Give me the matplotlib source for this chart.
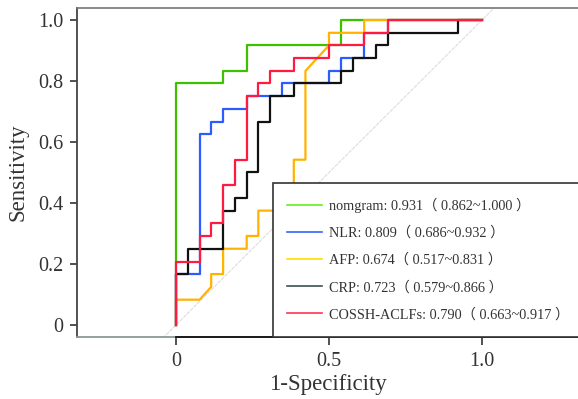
import matplotlib
matplotlib.use('Agg')
import matplotlib.pyplot as plt
from matplotlib.lines import Line2D
from matplotlib.patches import Rectangle

plt.rcParams['font.family'] = ['Liberation Serif', 'Noto Sans CJK SC']

# ROC points (1-specificity, sensitivity)
nom_fpr = [0, 0, 0.154, 0.154, 0.231, 0.231, 0.538, 0.538, 1]
nom_tpr = [0, 0.792, 0.792, 0.833, 0.833, 0.917, 0.917, 1, 1]

nlr_fpr = [0, 0, 0.077, 0.077, 0.115, 0.115, 0.154, 0.154, 0.231, 0.231, 0.346,
           0.346, 0.5, 0.5, 0.538, 0.538, 0.615, 0.615, 0.692, 0.692, 1]
nlr_tpr = [0, 0.167, 0.167, 0.625, 0.625, 0.667, 0.667, 0.708, 0.708, 0.75, 0.75,
           0.792, 0.792, 0.833, 0.833, 0.875, 0.875, 0.958, 0.958, 1, 1]

afp_fpr = [0, 0, 0.077, 0.115, 0.115, 0.154, 0.154, 0.231, 0.231, 0.269, 0.269,
           0.385, 0.385, 0.423, 0.423, 0.5, 0.5, 0.615, 0.615, 1]
afp_tpr = [0, 0.083, 0.083, 0.125, 0.167, 0.167, 0.25, 0.25, 0.292, 0.292, 0.375,
           0.375, 0.542, 0.542, 0.833, 0.917, 0.958, 0.958, 1, 1]

crp_fpr = [0, 0, 0.038, 0.038, 0.154, 0.154, 0.192, 0.192, 0.231, 0.231, 0.269,
           0.269, 0.308, 0.308, 0.385, 0.385, 0.538, 0.538, 0.577, 0.577, 0.654,
           0.654, 0.692, 0.692, 0.923, 0.923, 1]
crp_tpr = [0, 0.167, 0.167, 0.25, 0.25, 0.375, 0.375, 0.417, 0.417, 0.5, 0.5,
           0.667, 0.667, 0.75, 0.75, 0.792, 0.792, 0.833, 0.833, 0.875, 0.875,
           0.917, 0.917, 0.958, 0.958, 1, 1]

cos_fpr = [0, 0, 0.077, 0.077, 0.115, 0.115, 0.154, 0.154, 0.192, 0.192, 0.231,
           0.231, 0.269, 0.269, 0.308, 0.308, 0.385, 0.385, 0.5, 0.5, 0.615,
           0.615, 0.692, 0.692, 1]
cos_tpr = [0, 0.208, 0.208, 0.292, 0.292, 0.333, 0.333, 0.458, 0.458, 0.542, 0.542,
           0.75, 0.75, 0.792, 0.792, 0.833, 0.833, 0.875, 0.875, 0.917, 0.917,
           0.958, 0.958, 1, 1]

labels = ['nomgram: 0.931（ 0.862~1.000 ）',
          'NLR: 0.809（ 0.686~0.932 ）',
          'AFP: 0.674（ 0.517~0.831 ）',
          'CRP: 0.723（ 0.579~0.866 ）',
          'COSSH-ACLFs: 0.790（ 0.663~0.917 ）']
curve_colors = ['#3cc000', '#2a5cff', '#ffb300', '#111111', '#ff1a40']
legend_colors = ['#66ee22', '#3366ff', '#ffdd00', '#3d5252', '#ff3355']

xmin, xmax = -0.3235, 1.3137
ymin, ymax = -0.0393, 1.0393

fig = plt.figure(figsize=(5.78, 3.99), dpi=100)
ax = fig.add_axes([77/578, 62/399, 501/578, 329/399])

ax.plot([xmin, xmax], [xmin, xmax], color='#d9d9d9', lw=0.7, ls=(0, (4, 1)), zorder=1)

curves = [(nom_fpr, nom_tpr), (nlr_fpr, nlr_tpr), (afp_fpr, afp_tpr),
          (crp_fpr, crp_tpr), (cos_fpr, cos_tpr)]
for (fx, ty), c in zip(curves, curve_colors):
    ax.plot(fx, ty, color=c, lw=1.6, zorder=3)

ax.set_xlim(xmin, xmax)
ax.set_ylim(ymin, ymax)

ax.spines['right'].set_visible(False)
ax.spines['left'].set_color('#444444')
ax.spines['left'].set_linewidth(1.3)
ax.spines['top'].set_color('#777777')
ax.spines['top'].set_linewidth(1.2)
ax.spines['bottom'].set_color('#8a9898')
ax.spines['bottom'].set_linewidth(1.3)
ax.axhline(ymin, xmin=(0 - xmin) / (xmax - xmin), xmax=1, color='#111111', lw=1.3,
           clip_on=False, zorder=5)

ax.set_xticks([0, 0.5, 1])
ax.set_xticklabels(['0', '0.5', '1.0'])
ax.set_yticks([0, 0.2, 0.4, 0.6, 0.8, 1.0])
ax.set_yticklabels(['0', '0.2', '0.4', '0.6', '0.8', '1.0'])
ax.tick_params(axis='y', direction='out', length=5, width=1.2, labelsize=14.5,
               colors='#333333', pad=5)
ax.tick_params(axis='x', direction='out', length=6, width=1.2, labelsize=14.5,
               colors='#333333', pad=5)
ax.yaxis.get_major_ticks()[1].tick1line.set_color('#9aa8a8')

ax.set_xlabel('1-Specificity', fontsize=16.5, color='#333333', labelpad=2)
ax.set_ylabel('Sensitivity', fontsize=16.5, color='#333333', labelpad=7)

# legend box reaches past the right edge of the figure
ax.add_patch(Rectangle((0.391, 0), 0.7, 0.468, transform=ax.transAxes,
                       facecolor='white', edgecolor='#333333', lw=1.2,
                       clip_on=False, zorder=6))
handles = [Line2D([], [], color=c, lw=1.2) for c in legend_colors]
leg = ax.legend(handles, labels, loc='upper left', bbox_to_anchor=(0.391, 0.468),
                frameon=False, fontsize=10.3, borderpad=1.0, borderaxespad=0,
                handlelength=2.4, handletextpad=0.55, labelspacing=0.95)
leg.set_zorder(7)
for t in leg.get_texts():
    t.set_color('#333333')

fig.savefig('out.png', dpi=100)
